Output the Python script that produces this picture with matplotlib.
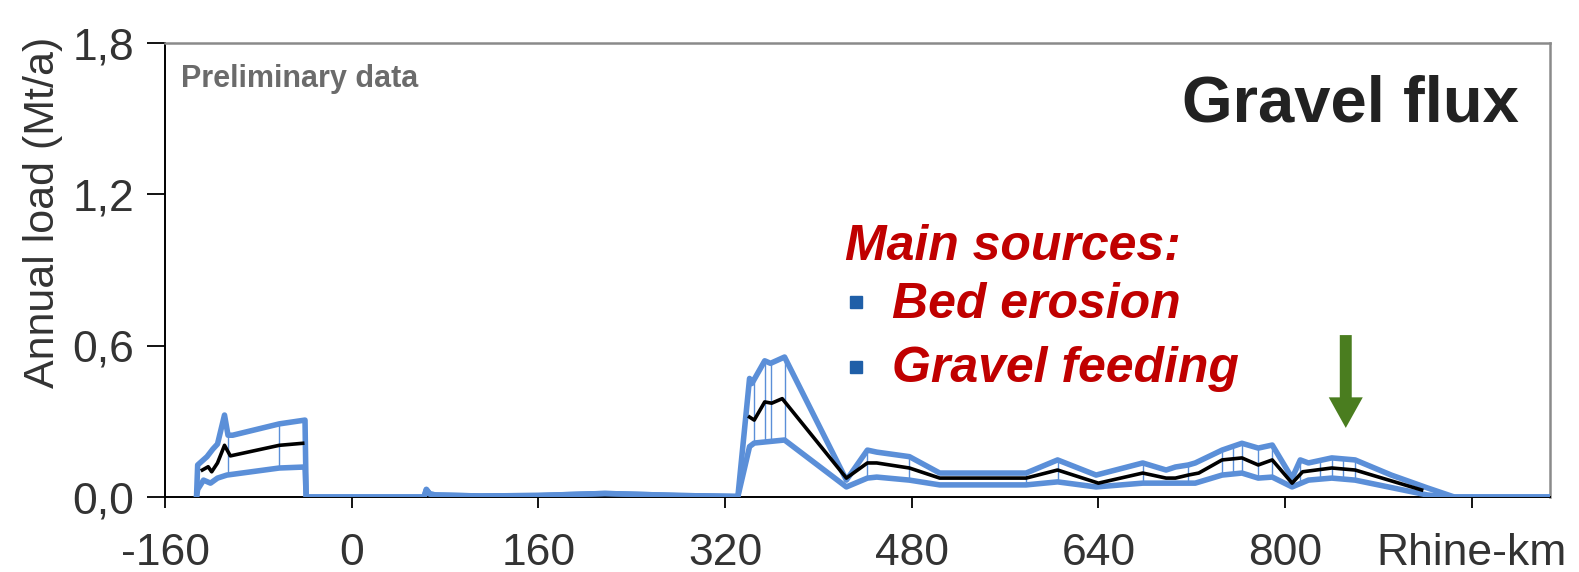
import numpy as np
import matplotlib
matplotlib.use("Agg")
import matplotlib.pyplot as plt

plt.rcParams['font.family'] = ['Liberation Sans', 'DejaVu Sans']

# upper bound of the gravel flux band (Mt/a) along the Rhine (km)
upper_km = [-133, -132, -124, -119, -115, -109, -106, -102, -62, -40, -39,
            62, 64, 67, 72, 110, 160, 217, 280, 331,
            341, 343, 354, 359, 371, 424, 442, 450, 478, 504, 578, 605, 638,
            678, 698, 706, 717, 723, 746, 763, 777, 789, 806, 813, 820, 840,
            860, 891, 922, 945, 1030]
upper_val = [0, 0.127, 0.16, 0.19, 0.21, 0.325, 0.245, 0.245, 0.29, 0.305, 0,
             0, 0.03, 0.012, 0.008, 0.004, 0.006, 0.014, 0.006, 0.002,
             0.47, 0.45, 0.54, 0.53, 0.555, 0.067, 0.186, 0.178, 0.16, 0.095,
             0.095, 0.147, 0.087, 0.135, 0.107, 0.119, 0.127, 0.135, 0.186,
             0.213, 0.194, 0.206, 0.075, 0.147, 0.135, 0.155, 0.147, 0.087,
             0.036, 0, 0]

# lower bound
lower_km = [-133, -132, -127, -121, -115, -107, -62, -40, -39,
            62, 64, 67, 72, 110, 160, 217, 280, 331,
            341, 345, 371, 424, 442, 450, 478, 504, 578, 605, 638, 678, 717,
            723, 746, 763, 777, 789, 806, 820, 840, 860, 922, 943, 1030]
lower_val = [0, 0.03, 0.067, 0.055, 0.075, 0.087, 0.115, 0.119, 0,
             0, 0.03, 0.012, 0.008, 0.004, 0.006, 0.014, 0.006, 0.002,
             0.2, 0.214, 0.226, 0.04, 0.075, 0.079, 0.067, 0.048, 0.048, 0.06,
             0.04, 0.055, 0.055, 0.055, 0.087, 0.095, 0.075, 0.079, 0.04,
             0.067, 0.075, 0.067, 0.008, 0, 0]

# mean estimate (drawn in two pieces)
mean1_km = [-128, -123, -120, -115, -109, -104, -62, -42]
mean1_val = [0.107, 0.12, 0.10, 0.135, 0.205, 0.163, 0.205, 0.213]
mean2_km = [341, 345, 354, 360, 369, 424, 442, 450, 478, 504, 578, 605, 640,
            678, 698, 706, 717, 726, 746, 763, 777, 789, 806, 815, 840, 860,
            917]
mean2_val = [0.317, 0.305, 0.377, 0.372, 0.39, 0.075, 0.135, 0.135, 0.115,
             0.075, 0.075, 0.107, 0.055, 0.095, 0.075, 0.075, 0.087, 0.095,
             0.147, 0.155, 0.127, 0.147, 0.055, 0.1, 0.115, 0.107, 0.028]

# where the thin connectors between the bounds sit
connector_km = [-106, -62, 345, 354, 359, 371, 442, 478, 578, 605, 678, 717,
                746, 755, 763, 777, 789, 813, 830, 840, 850, 860]

x_ticks = [-160, 0, 160, 320, 480, 640, 800, 960]
x_labels = ['-160', '0', '160', '320', '480', '640', '800', 'Rhine-km']
y_ticks = [0, 0.6, 1.2, 1.8]
y_labels = ['0,0', '0,6', '1,2', '1,8']

BLUE = '#5b8fd8'

fig = plt.figure(figsize=(15.79, 5.72), dpi=100)
ax = fig.add_axes([0.1045, 0.1311, 0.8771, 0.7937])

# thin verticals
up_c = np.interp(connector_km, upper_km, upper_val)
lo_c = np.interp(connector_km, lower_km, lower_val)
ax.vlines(connector_km, lo_c, up_c, color=BLUE, lw=1.0, zorder=2)

ax.plot(lower_km, lower_val, color=BLUE, lw=4.0, solid_joinstyle='round', zorder=3)
ax.plot(upper_km, upper_val, color=BLUE, lw=4.0, solid_joinstyle='round', zorder=3)
ax.plot(mean1_km, mean1_val, color='black', lw=2.6, zorder=4)
ax.plot(mean2_km, mean2_val, color='black', lw=2.6, zorder=4)

ax.set_xlim(-160, 1027)
ax.set_ylim(0, 1.8)
ax.set_xticks(x_ticks)
ax.set_xticklabels(x_labels)
ax.set_yticks(y_ticks)
ax.set_yticklabels(y_labels)
ax.tick_params(axis='x', direction='out', length=8, width=1.3, pad=18,
               labelsize=32, labelcolor='#333333')
ax.tick_params(axis='y', direction='out', length=13, width=1.3, pad=9,
               labelsize=32, labelcolor='#333333')

for s in ['left', 'bottom']:
    ax.spines[s].set_color('black')
    ax.spines[s].set_linewidth(1.4)
for s in ['top', 'right']:
    ax.spines[s].set_color('#8a8a8a')
    ax.spines[s].set_linewidth(1.8)

ax.set_ylabel('Annual load (Mt/a)', fontsize=31, color='#333333')
ax.yaxis.set_label_coords(-0.074, 0.626)

ax.text(0.0116, 0.921, 'Preliminary data', transform=ax.transAxes,
        ha='left', va='center', fontsize=22, fontweight='bold', color='#6b6b6b',
        family=['Liberation Sans Narrow', 'Liberation Sans'])
ax.text(0.734, 0.828, 'Gravel flux', transform=ax.transAxes, ha='left',
        va='baseline', fontsize=47, fontweight='bold', color='#222222')

RED = '#c00000'
ax.text(0.491, 0.522, 'Main sources:', transform=ax.transAxes, ha='left',
        va='baseline', fontsize=36, fontweight='bold', style='italic', color=RED)
ax.text(0.525, 0.394, 'Bed erosion', transform=ax.transAxes, ha='left',
        va='baseline', fontsize=36, fontweight='bold', style='italic', color=RED)
ax.text(0.525, 0.253, 'Gravel feeding', transform=ax.transAxes, ha='left',
        va='baseline', fontsize=36, fontweight='bold', style='italic', color=RED)
ax.plot([0.499, 0.499], [0.43, 0.286], ls='none', marker='s', ms=8,
        color='#1f5fa8', transform=ax.transAxes, clip_on=False)

# green arrow marking the feeding site
ax.annotate('', xy=(852, 0.274), xytext=(852, 0.642),
            arrowprops=dict(width=8.6, headwidth=24.5, headlength=22,
                            shrink=0, color='#4a7d1f', lw=0))

fig.savefig('out.png', dpi=100)
